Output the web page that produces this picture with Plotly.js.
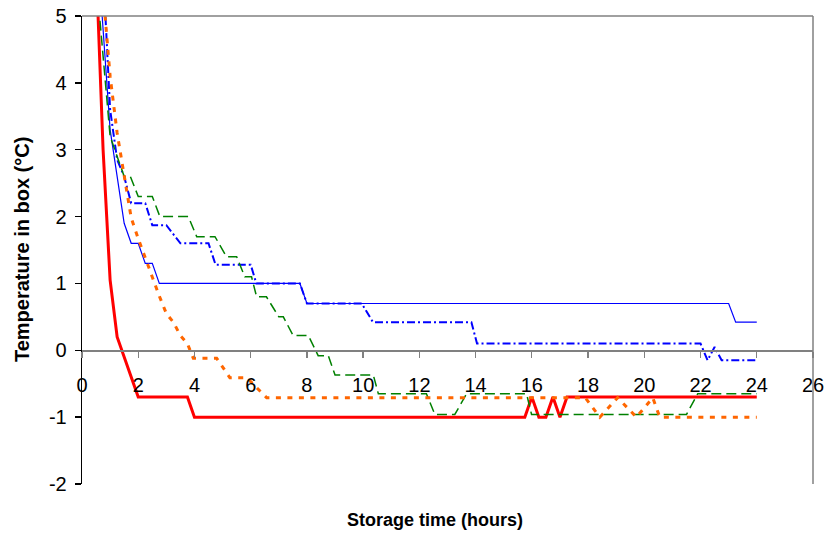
<!DOCTYPE html>
<html>
<head>
<meta charset="utf-8">
<script src="https://cdn.plot.ly/plotly-3.0.1.min.js"></script>
<style>html,body{margin:0;padding:0;background:#fff;}#chart{width:825px;height:535px;}</style>
</head>
<body>
<div id="chart"></div>
<script>
// Storage time (hours) and temperature in box (°C)
const redX = [0.5, 0.75, 1.0, 1.25, 2.0, 3.75, 4.0, 15.75, 16.0, 16.25, 16.5, 16.75, 17.0, 17.25, 24];
const redY = [5.8, 3.0, 1.05, 0.2, -0.7, -0.7, -1.0, -1.0, -0.7, -1.0, -1.0, -0.7, -1.0, -0.7, -0.7];

const blueSolidX = [0.5, 1.0, 1.5, 1.75, 2.0, 2.25, 2.5, 2.75, 7.75, 8.0, 23.0, 23.25, 24];
const blueSolidY = [6.3, 3.3, 1.9, 1.6, 1.6, 1.3, 1.3, 1.0, 1.0, 0.7, 0.7, 0.42, 0.42];

const blueDashX = [0.75, 1.0, 1.25, 1.5, 1.75, 2.25, 2.5, 3.0, 3.5, 4.5, 4.75, 6.0, 6.2, 7.75, 8.0, 9.95, 10.35, 13.85, 14.05, 22.0, 22.25, 22.5, 22.75, 24];
const blueDashY = [5.7, 3.6, 2.85, 2.6, 2.2, 2.2, 1.87, 1.87, 1.6, 1.6, 1.28, 1.28, 1.0, 1.0, 0.7, 0.7, 0.42, 0.42, 0.1, 0.1, -0.15, 0.05, -0.15, -0.15];

const greenX = [0.5, 1.0, 1.5, 1.72, 2.0, 2.5, 2.77, 3.78, 4.08, 4.73, 5.14, 5.5, 5.79, 6.03, 6.21, 6.56, 7.0, 7.16, 7.51, 8.05, 8.4, 8.76, 9.0, 10.36, 10.54, 12.25, 12.55, 13.26, 13.68, 15.81, 15.99, 21.5, 21.9, 24];
const greenY = [5.6, 3.2, 2.6, 2.6, 2.3, 2.3, 2.0, 2.0, 1.7, 1.7, 1.4, 1.4, 1.1, 1.1, 0.8, 0.8, 0.5, 0.5, 0.22, 0.22, -0.08, -0.08, -0.37, -0.37, -0.65, -0.65, -0.96, -0.96, -0.65, -0.65, -0.96, -0.96, -0.65, -0.65];

const orangeX = [0.75, 1.0, 1.25, 1.5, 1.75, 2.0, 2.25, 2.5, 2.75, 3.0, 3.25, 3.5, 3.75, 3.96, 4.79, 5.26, 5.86, 6.57, 17.9, 18.42, 19.05, 19.72, 20.3, 20.55, 24];
const orangeY = [5.35, 4.1, 3.25, 2.6, 1.98, 1.67, 1.38, 1.08, 0.81, 0.55, 0.42, 0.22, 0.1, -0.12, -0.12, -0.41, -0.41, -0.71, -0.71, -1.0, -0.71, -1.0, -0.71, -1.0, -1.0];

const xTicks = [0, 2, 4, 6, 8, 10, 12, 14, 16, 18, 20, 22, 24, 26];
const yTicks = [-2, -1, 0, 1, 2, 3, 4, 5];

const traces = [
  {x: redX, y: redY, mode: 'lines', line: {color: '#FF0000', width: 3}},
  {x: blueSolidX, y: blueSolidY, mode: 'lines', line: {color: '#0000FF', width: 1.2}},
  {x: blueDashX, y: blueDashY, mode: 'lines', line: {color: '#0000FF', width: 2, dash: '8px,3px,2px,3px'}},
  {x: greenX, y: greenY, mode: 'lines', line: {color: '#008000', width: 1.5, dash: '10px,5px'}},
  {x: orangeX, y: orangeY, mode: 'lines', line: {color: '#FF6600', width: 3, dash: '5px,6.5px'}}
];

const font = {family: 'Liberation Sans, Arial, sans-serif', color: '#000'};

const layout = {
  width: 825, height: 535,
  margin: {l: 82, r: 12, t: 16, b: 51},
  paper_bgcolor: '#fff', plot_bgcolor: '#fff',
  showlegend: false,
  font: font,
  xaxis: {
    range: [0, 26], tickvals: xTicks, ticktext: xTicks.map(String),
    anchor: 'free', position: 2/7,
    showline: true, linecolor: '#808080', linewidth: 1.3,
    ticks: 'outside', ticklen: 6, tickcolor: '#808080', tickwidth: 1.3,
    ticklabelstandoff: 10,
    showgrid: false, zeroline: false,
    tickfont: {family: font.family, size: 20, color: '#000'}
  },
  yaxis: {
    range: [-2, 5], tickvals: yTicks, ticktext: yTicks.map(String),
    showline: true, linecolor: '#000', linewidth: 1.3,
    ticks: 'outside', ticklen: 6, tickcolor: '#000', tickwidth: 1.3,
    ticklabelstandoff: 4,
    showgrid: false, zeroline: false,
    tickfont: {family: font.family, size: 20, color: '#000'}
  },
  shapes: [
    {type: 'line', xref: 'paper', yref: 'paper', x0: 0, x1: 1, y0: 1, y1: 1, line: {color: '#808080', width: 1.5}},
    {type: 'line', xref: 'paper', yref: 'paper', x0: 1, x1: 1, y0: 0, y1: 1, line: {color: '#808080', width: 1.5}}
  ],
  annotations: [
    {text: '<b>Storage time (hours)</b>', xref: 'paper', yref: 'paper', x: 0.483, y: -0.077,
     xanchor: 'center', yanchor: 'middle', showarrow: false, font: {family: font.family, size: 18, color: '#000'}},
    {text: '<b>Temperature in box (°C)</b>', xref: 'paper', yref: 'paper', x: -0.082, y: 0.5, textangle: -90,
     xanchor: 'center', yanchor: 'middle', showarrow: false, font: {family: font.family, size: 20, color: '#000'}}
  ]
};

Plotly.newPlot('chart', traces, layout, {staticPlot: true, displayModeBar: false});
</script>
</body>
</html>
